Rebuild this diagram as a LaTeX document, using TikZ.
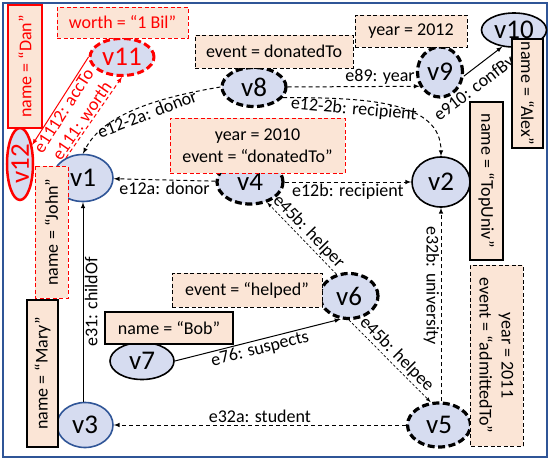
\documentclass[tikz,border=0pt]{standalone}
\usepackage{fontspec}
\setmainfont{Carlito}
\usetikzlibrary{arrows}
\usetikzlibrary{shapes.geometric}
\definecolor{gblue}{RGB}{47,85,151}
\definecolor{gfill}{RGB}{214,220,240}
\definecolor{gbox}{RGB}{251,229,214}
\newcommand{\vtxfont}{\fontsize{27}{30}\selectfont}
\newcommand{\lblfont}{\fontsize{18}{22}\selectfont}

\begin{document}
\begin{tikzpicture}[x=1pt,y=-1pt,
  vtx/.style={ellipse,fill=gfill,inner sep=0pt,font=\vtxfont},
  vsolid/.style={vtx,draw=black,line width=1.6pt},
  vblue/.style={vtx,draw=gblue,line width=1.6pt},
  vdash/.style={vtx,draw=black,line width=3.2pt,dash pattern=on 7pt off 3.5pt},
  vred/.style={vtx,draw=red,text=red,line width=3pt,dash pattern=on 7pt off 3.5pt},
  prop/.style={rectangle,fill=gbox,inner sep=0pt,font=\lblfont,align=center},
  psolid/.style={prop,draw=black,line width=1.2pt},
  pdash/.style={prop,draw=black,line width=1pt,dash pattern=on 4pt off 2.5pt},
  pred/.style={prop,draw=red,line width=1pt,dash pattern=on 4pt off 2.5pt},
  link/.style={black,line width=1pt,-latex},
  dlink/.style={link,dash pattern=on 4pt off 3pt},
  flink/.style={link,line width=0.7pt,dash pattern=on 2.5pt off 2pt},
  lbl/.style={font=\lblfont,inner sep=1.5pt},
]

\useasboundingbox (0,0) rectangle (551,461);
\draw[gblue,line width=2.5pt] (3,3) rectangle (547,457);

%vertices
\node[vblue,minimum width=60pt,minimum height=47pt] (v1) at (83,178) {v1};
\node[vsolid,minimum width=58pt,minimum height=50pt] (v2) at (441,182) {v2};
\node[vblue,minimum width=56pt,minimum height=45pt] (v3) at (85,425) {v3};
\node[vdash,minimum width=66pt,minimum height=44pt] (v4) at (250,182) {v4};
\node[vdash,minimum width=63pt,minimum height=44pt] (v5) at (439,425) {v5};
\node[vdash,minimum width=58pt,minimum height=45pt] (v6) at (349,296) {v6};
\node[vsolid,minimum width=64pt,minimum height=37pt] (v7) at (142,361) {v7};
\node[vdash,minimum width=64pt,minimum height=39pt] (v8) at (254,87) {v8};
\node[vdash,minimum width=45pt,minimum height=50pt] (v9) at (440,72) {v9};
\node[vsolid,minimum width=65pt,minimum height=34pt] (v10) at (514,30) {v10};
\node[vred,minimum width=64pt,minimum height=37pt] (v11) at (122,57) {v11};
\node[vtx,draw=red,text=red,line width=2.5pt,rotate=90,
      minimum width=72pt,minimum height=26pt] (v12) at (20,164) {v12};

%edges
\draw[dlink] (v4) -- (v1) node[lbl,midway,below] {e12a: donor};
\draw[dlink] (v4) -- (v2) node[lbl,midway,below] {e12b: recipient};
\draw[dlink] (v8.west) .. controls +(-60,10) and +(20,-40) .. (v1.north)
  node[lbl,pos=0.45,sloped,below] {e12-2a: donor};
\draw[dlink] (v8.-20) .. controls +(85,0) and +(0,-55) .. (v2.north)
  node[lbl,pos=0.3,sloped,below] {e12-2b: recipient};
\draw[dlink] (v8.east) -- (v9.215) node[lbl,pos=0.7,above] {e89: year};
\draw[link] (v9.-10) -- (v10.235) node[lbl,pos=0.02,sloped,below=7pt] {e910: confBy};

\draw[link,red] (v11.west) -- (v12) node[lbl,red,pos=0.56,sloped,below] {e1112: accTo};
\draw[dlink,red] (v1.130) -- (v11.south) node[lbl,red,pos=0.4,sloped,above] {e111: worth};

\draw[link] (v3.north -| v1.south) -- (v1.south)
  node[lbl,midway,rotate=90,below] {e31: childOf};
\draw[link] (v7.east) -- (v6.250) node[lbl,midway,sloped,below] {e76: suspects};
\draw[flink] (v6.120) -- (v4.-50) node[lbl,midway,sloped,above] {e45b: helper};
\draw[flink] (v6.south) -- (v5.110) node[lbl,midway,sloped,above] {e45b: helpee};
\draw[dlink] (v5.north -| v2.south) -- (v2.south)
  node[lbl,pos=0.6,rotate=-90,below] {e32b: university};
\draw[dlink] (v5) -- (v3) node[lbl,midway,above] {e32a: student};

%properties
\node[pred,text=red,minimum width=131pt,minimum height=31pt] (pworth) at (122.5,22.5) {worth = “1 Bil"};
\node[psolid,draw=red,text=red,rotate=90,minimum width=123pt,minimum height=34pt] (pdan) at (25,66.5) {name = “Dan”};
\node[pdash,minimum width=158pt,minimum height=33pt] (pev8) at (274,51.5) {event = donatedTo};
\node[pdash,minimum width=112pt,minimum height=32pt] (pyr9) at (411,31) {year = 2012};
\node[pred,minimum width=175pt,minimum height=55pt] (pev4) at (257.5,145.5) {year = 2010\\event = “donatedTo”};
\node[psolid,rotate=-90,minimum width=109pt,minimum height=31pt] (palex) at (527.5,93.5) {name = “Alex”};
\node[psolid,rotate=-90,minimum width=158pt,minimum height=33pt] (ptop) at (486.5,181) {name = “TopUniv”};
\node[pdash,rotate=-90,minimum width=181pt,minimum height=53pt] (pev5) at (496.5,355.5) {year = 2011\\event = “admittedTo”};
\node[pred,rotate=90,minimum width=132pt,minimum height=33pt] (pjohn) at (51.5,232) {name = “John”};
\node[psolid,rotate=90,minimum width=147pt,minimum height=31pt] (pmary) at (42.5,373.5) {name = “Mary”};
\node[pdash,minimum width=150pt,minimum height=34pt] (pev6) at (247,290) {event = “helped”};
\node[psolid,minimum width=128pt,minimum height=32pt] (pbob) at (169,328) {name = “Bob”};

\end{tikzpicture}
\end{document}
